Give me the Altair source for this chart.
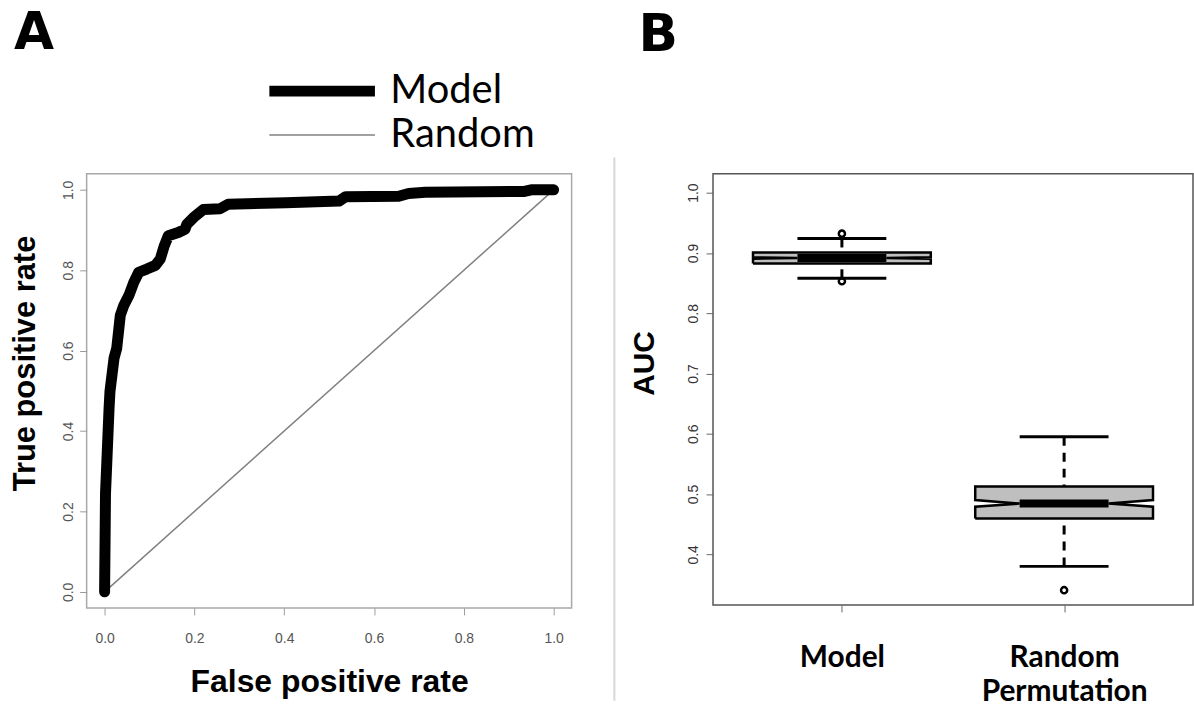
import altair as alt
import pandas as pd

# ---------------- Panel A: ROC curve ----------------
fpr = [0.000, 0.002, 0.010, 0.012, 0.021, 0.027, 0.035, 0.043, 0.054, 0.065,
       0.076, 0.094, 0.113, 0.124, 0.133, 0.142, 0.164, 0.179, 0.183, 0.198,
       0.220, 0.257, 0.275, 0.404, 0.522, 0.537, 0.655, 0.677, 0.714, 0.935,
       0.950, 1.000]
tpr = [0.000, 0.244, 0.458, 0.499, 0.581, 0.606, 0.688, 0.713, 0.737, 0.770,
       0.795, 0.803, 0.812, 0.828, 0.861, 0.886, 0.894, 0.902, 0.914, 0.931,
       0.951, 0.953, 0.964, 0.968, 0.972, 0.983, 0.984, 0.991, 0.994, 0.996,
       1.000, 1.000]
random_fpr = [0.0, 1.0]
random_tpr = [0.0, 1.0]
curve_names = ["Model", "Random"]
axis_ticks_a = [0.0, 0.2, 0.4, 0.6, 0.8, 1.0]

# ---------------- Panel B: AUC boxplots ----------------
box_groups = ["Model", "Random Permutation"]
box_pos = [1, 2]
box_q1 = [0.8826, 0.4595]
box_med = [0.8917, 0.4843]
box_q3 = [0.9008, 0.5124]
box_notch_lo = [0.8905, 0.4790]
box_notch_hi = [0.8929, 0.4900]
whisk_lo = [0.858, 0.380]
whisk_hi = [0.924, 0.595]
out_pos = [1, 1, 2]
out_val = [0.932, 0.853, 0.3405]
axis_ticks_b = [0.4, 0.5, 0.6, 0.7, 0.8, 0.9, 1.0]

SANS = "Liberation Sans"

# ---------- Panel A chart ----------
roc_df = pd.DataFrame({"fpr": fpr, "tpr": tpr, "curve": curve_names[0],
                       "ord": list(range(len(fpr)))})
rnd_df = pd.DataFrame({"fpr": random_fpr, "tpr": random_tpr, "curve": curve_names[1],
                       "ord": list(range(len(random_fpr)))})

leg = alt.Legend(title=None, orient="none", legendX=178, legendY=-104,
                 symbolType="stroke", symbolSize=11236, clipHeight=42,
                 labelFont="Lato", labelFontSize=40, labelColor="black",
                 labelOffset=10, rowPadding=2, padding=0, symbolOffset=0)

color_scale = alt.Scale(domain=curve_names, range=["black", "#808080"])
sw_scale = alt.Scale(domain=curve_names, range=[11, 1.5])

xa = alt.X("fpr:Q", scale=alt.Scale(domain=[-0.04, 1.04], nice=False, zero=False),
           axis=alt.Axis(values=axis_ticks_a, format=".1f", title="False positive rate",
                         grid=False, domain=False, tickSize=7, tickColor="#9a9a9a",
                         labelFont=SANS, labelFontSize=14, labelColor="#555555",
                         labelPadding=17, titleFont=SANS, titleFontSize=32,
                         titleFontWeight="bold", titleColor="black", titlePadding=21))
ya = alt.Y("tpr:Q", scale=alt.Scale(domain=[-0.04, 1.04], nice=False, zero=False),
           axis=alt.Axis(values=axis_ticks_a, format=".1f", title="True positive rate",
                         grid=False, domain=False, tickSize=7, tickColor="#9a9a9a",
                         labelFont=SANS, labelFontSize=14, labelColor="#555555",
                         labelAngle=270, labelAlign="center", labelBaseline="bottom",
                         labelPadding=4, titleFont=SANS, titleFontSize=31,
                         titleFontWeight="bold", titleColor="black", titlePadding=20,
                         titleY=190))

diag = alt.Chart(rnd_df).mark_line(strokeCap="butt").encode(
    x=xa, y=ya, order="ord:Q",
    color=alt.Color("curve:N", scale=color_scale, legend=leg),
    strokeWidth=alt.StrokeWidth("curve:N", scale=sw_scale, legend=leg),
)
roc = alt.Chart(roc_df).mark_line(strokeCap="round", strokeJoin="round").encode(
    x=xa, y=ya, order="ord:Q",
    color=alt.Color("curve:N", scale=color_scale, legend=leg),
    strokeWidth=alt.StrokeWidth("curve:N", scale=sw_scale, legend=leg),
)

chart_a = alt.layer(diag, roc).properties(
    width=487, height=436,
    title=alt.TitleParams("A", anchor="start", frame="bounds", font="DejaVu Sans",
                          fontSize=52, fontWeight="bold", color="black", offset=10, dx=4),
    view=alt.ViewBackground(stroke="#a8a8a8", strokeWidth=1.5),
)

# ---------- Panel B chart ----------
HW = 0.4   # half box width
NW = 0.2   # notch / staple half width
box_df = pd.DataFrame({"grp": box_groups, "pos": box_pos, "q1": box_q1, "med": box_med,
                       "q3": box_q3, "nlo": box_notch_lo, "nhi": box_notch_hi,
                       "wlo": whisk_lo, "whi": whisk_hi})
box_df["sl"] = box_df["pos"] - NW
box_df["sr"] = box_df["pos"] + NW

fill_rows = []
outline_rows = []
for i, p in enumerate(box_pos):
    ys = [box_q1[i], box_notch_lo[i], box_med[i], box_notch_hi[i], box_q3[i]]
    insets = [HW, HW, NW, HW, HW]
    for yv, w in zip(ys, insets):
        fill_rows.append({"grp": box_groups[i], "y": yv, "x": p - w, "x2": p + w})
    px = [p - HW, p - HW, p - NW, p - HW, p - HW, p + HW, p + HW, p + NW, p + HW, p + HW, p - HW]
    py = [box_q1[i], box_notch_lo[i], box_med[i], box_notch_hi[i], box_q3[i],
          box_q3[i], box_notch_hi[i], box_med[i], box_notch_lo[i], box_q1[i], box_q1[i]]
    for k, (a, b) in enumerate(zip(px, py)):
        outline_rows.append({"grp": box_groups[i], "x": a, "y": b, "k": k})
fill_df = pd.DataFrame(fill_rows)
outline_df = pd.DataFrame(outline_rows)
out_df = pd.DataFrame({"pos": out_pos, "val": out_val})

xs_b = alt.Scale(domain=[0.42, 2.58], nice=False, zero=False)
ys_b = alt.Scale(domain=[0.316, 1.0314], nice=False, zero=False)

xb_axis = alt.Axis(values=[1, 2], title=None, grid=False, domain=False, tickSize=7,
                   tickColor="#666666",
                   labelExpr="datum.value == 1 ? 'Model' : ['Random', 'Permutation']",
                   labelFont="Lato", labelFontSize=30, labelFontWeight="bold",
                   labelColor="black", labelPadding=31, labelLineHeight=34,
                   labelOverlap=False)
yb_axis = alt.Axis(values=axis_ticks_b, format=".1f", title="AUC", grid=False,
                   domain=False, tickSize=7, tickColor="#666666",
                   labelFont=SANS, labelFontSize=14, labelColor="#333333",
                   labelAngle=270, labelAlign="center", labelBaseline="bottom",
                   labelPadding=6, titleFont=SANS, titleFontSize=30,
                   titleFontWeight="bold", titleColor="black", titlePadding=27,
                   titleY=190)

base_fill = alt.Chart(fill_df).mark_area(orient="horizontal", color="#bfbfbf").encode(
    y=alt.Y("y:Q", scale=ys_b, axis=yb_axis),
    x=alt.X("x:Q", scale=xs_b, axis=xb_axis),
    x2="x2:Q",
    detail="grp:N",
)
outline = alt.Chart(outline_df).mark_line(color="black", strokeWidth=2.5,
                                          strokeJoin="miter").encode(
    x=alt.X("x:Q", scale=xs_b), y=alt.Y("y:Q", scale=ys_b), order="k:Q", detail="grp:N")

whisk_up = alt.Chart(box_df).mark_rule(color="black", strokeWidth=3,
                                       strokeDash=[9, 7]).encode(
    x=alt.X("pos:Q", scale=xs_b), y=alt.Y("whi:Q", scale=ys_b), y2="q3:Q")
whisk_dn = alt.Chart(box_df).mark_rule(color="black", strokeWidth=3,
                                       strokeDash=[9, 7]).encode(
    x=alt.X("pos:Q", scale=xs_b), y=alt.Y("wlo:Q", scale=ys_b), y2="q1:Q")
cap_up = alt.Chart(box_df).mark_rule(color="black", strokeWidth=3).encode(
    x=alt.X("sl:Q", scale=xs_b), x2="sr:Q", y=alt.Y("whi:Q", scale=ys_b))
cap_dn = alt.Chart(box_df).mark_rule(color="black", strokeWidth=3).encode(
    x=alt.X("sl:Q", scale=xs_b), x2="sr:Q", y=alt.Y("wlo:Q", scale=ys_b))
median = alt.Chart(box_df).mark_rule(color="black", strokeWidth=8).encode(
    x=alt.X("sl:Q", scale=xs_b), x2="sr:Q", y=alt.Y("med:Q", scale=ys_b))
outliers = alt.Chart(out_df).mark_point(shape="circle", filled=False, color="black",
                                        strokeWidth=2.5, size=38, opacity=1).encode(
    x=alt.X("pos:Q", scale=xs_b), y=alt.Y("val:Q", scale=ys_b))
separator = alt.Chart(out_df).mark_rule(color="#d9d9d9", strokeWidth=1.5).encode(
    x=alt.value(-99), y=alt.value(-16), y2=alt.value(529))

chart_b = alt.layer(separator, base_fill, outline, whisk_up, whisk_dn, cap_up, cap_dn,
                    median, outliers).properties(
    width=482, height=433,
    title=alt.TitleParams("B", anchor="start", frame="bounds", font="DejaVu Sans",
                          fontSize=52, fontWeight="bold", color="black", offset=96, dx=25),
    view=alt.ViewBackground(stroke="#555555", strokeWidth=1.5),
)

chart = alt.hconcat(chart_a, chart_b, spacing=40).properties(
    padding={"left": 9, "top": 5, "right": 0, "bottom": 0},
    background="white",
).resolve_scale(color="independent", strokeWidth="independent").configure_view(
    stroke=None
)

chart.save("out.html", embed_options={"renderer": "svg", "actions": False})
